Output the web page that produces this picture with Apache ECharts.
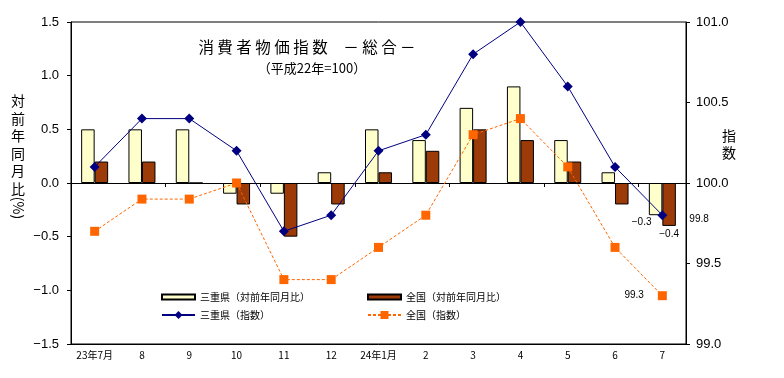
<!DOCTYPE html>
<html><head><meta charset="utf-8">
<script src="https://cdn.jsdelivr.net/npm/echarts@6/dist/echarts.min.js"></script>
<style>html,body{margin:0;padding:0;background:#fff}#c{width:784px;height:378px}</style>
</head><body><div id="c"></div>
<script>
const categories = ['23年7月','8','9','10','11','12','24年1月','2','3','4','5','6','7'];
const mieYoY = [0.5,0.5,0.5,-0.1,-0.1,0.1,0.5,0.4,0.7,0.9,0.4,0.1,-0.3];
const zenkokuYoY = [0.2,0.2,0.0,-0.2,-0.5,-0.2,0.1,0.3,0.5,0.4,0.2,-0.2,-0.4];
const mieIndex = [100.1,100.4,100.4,100.2,99.7,99.8,100.2,100.3,100.8,101.0,100.6,100.1,99.8];
const zenkokuIndex = [99.7,99.9,99.9,100.0,99.4,99.4,99.6,99.8,100.3,100.4,100.1,99.6,99.3];
const seriesNames = ['三重県（対前年同月比）','全国（対前年同月比）','三重県（指数）','全国（指数）'];
const leftTicks = {min:-1.5, max:1.5, interval:0.5};
const rightTicks = {min:99.0, max:101.0, interval:0.5};

const FONT = "'Liberation Sans','Noto Sans CJK JP',sans-serif";
const JFONT = "'Noto Sans CJK JP',sans-serif";
const last = categories.length - 1;
const fmtNum = v => v.toFixed(1).replace('-', '−');

const chart = echarts.init(document.getElementById('c'), null, {renderer:'canvas'});
const legendBase = {itemWidth:33, textStyle:{fontSize:10, color:'#000', fontFamily:JFONT}, itemGap:0, padding:0};
chart.setOption({
  animation:false,
  backgroundColor:'#fff',
  grid:{left:71, top:22, right:98, bottom:34, show:true, borderColor:'#000', borderWidth:1, backgroundColor:'transparent'},
  legend:[
    Object.assign({}, legendBase, {data:[{name:seriesNames[0], icon:'rect'}], left:161, top:292, itemHeight:5}),
    Object.assign({}, legendBase, {data:[{name:seriesNames[1], icon:'rect'}], left:367, top:292, itemHeight:5}),
    Object.assign({}, legendBase, {data:[seriesNames[2]], left:161, top:310, itemHeight:10}),
    Object.assign({}, legendBase, {data:[seriesNames[3]], left:367, top:310, itemHeight:10})
  ],
  xAxis:[
    {type:'category', data:categories, position:'bottom', boundaryGap:true,
     axisLine:{onZero:false, lineStyle:{color:'#000'}}, axisTick:{show:false},
     axisLabel:{fontSize:10, color:'#000', fontFamily:JFONT, margin:6, interval:0}},
    {type:'category', data:categories, position:'bottom', boundaryGap:true,
     axisLine:{onZero:true, onZeroAxisIndex:0, lineStyle:{color:'#000'}},
     axisTick:{show:true, length:4, lineStyle:{color:'#000'}, alignWithLabel:false},
     axisLabel:{show:false}}
  ],
  yAxis:[
    {type:'value', min:leftTicks.min, max:leftTicks.max, interval:leftTicks.interval,
     axisLine:{show:true, lineStyle:{color:'#000'}}, axisTick:{show:true, length:4, lineStyle:{color:'#000'}},
     splitLine:{show:false},
     axisLabel:{fontSize:13, color:'#000', fontFamily:FONT, margin:12, formatter:fmtNum}},
    {type:'value', min:rightTicks.min, max:rightTicks.max, interval:rightTicks.interval, position:'right',
     axisLine:{show:true, lineStyle:{color:'#000'}}, axisTick:{show:true, length:4, lineStyle:{color:'#000'}},
     splitLine:{show:false},
     axisLabel:{fontSize:13, color:'#000', fontFamily:FONT, margin:10, formatter:v=>v.toFixed(1)}}
  ],
  series:[
    {name:seriesNames[0], type:'bar', xAxisIndex:0, yAxisIndex:0, data:mieYoY, barWidth:13.5, barGap:'0%',
     itemStyle:{color:'#FFFFCC', borderColor:'#000', borderWidth:1},
     label:{show:true, position:'bottom', distance:2, offset:[-14,0], fontSize:10, color:'#000', fontFamily:FONT,
       formatter:p=>p.dataIndex===last?fmtNum(p.value):''}},
    {name:seriesNames[1], type:'bar', xAxisIndex:0, yAxisIndex:0, data:zenkokuYoY, barWidth:13.5, barGap:'0%',
     itemStyle:{color:'#9C3A08', borderColor:'#000', borderWidth:1},
     label:{show:true, position:'bottom', distance:3, fontSize:10, color:'#000', fontFamily:FONT,
       formatter:p=>p.dataIndex===last?fmtNum(p.value):''}},
    {name:seriesNames[2], type:'line', xAxisIndex:0, yAxisIndex:1, data:mieIndex, z:5,
     symbol:'diamond', symbolSize:10, lineStyle:{color:'#000080', width:1}, itemStyle:{color:'#000080'},
     label:{show:true, position:'right', distance:22, offset:[0,4], fontSize:10, color:'#000', fontFamily:FONT,
       formatter:p=>p.dataIndex===last?p.value.toFixed(1):''}},
    {name:seriesNames[3], type:'line', xAxisIndex:0, yAxisIndex:1, data:zenkokuIndex, z:4,
     symbol:'rect', symbolSize:9, lineStyle:{color:'#FF6600', width:1, type:[3,2]}, itemStyle:{color:'#FF6600'},
     label:{show:true, position:'left', distance:14, fontSize:10, color:'#000', fontFamily:FONT,
       formatter:p=>p.dataIndex===last?p.value.toFixed(1):''}}
  ],
  graphic:[
    {type:'text', x:307, y:47, style:{text:'消 費 者 物 価 指 数　－ 総 合 －', font:'15.5px '+JFONT, fill:'#000', align:'center', verticalAlign:'middle'}},
    {type:'text', x:312, y:68, style:{text:'（平成22年=100）', font:'13px '+JFONT, fill:'#000', align:'center', verticalAlign:'middle'}},
    {type:'text', x:18, y:92, style:{text:'対\n前\n年\n同\n月\n比', font:'14px '+JFONT, lineHeight:17.5, fill:'#000', align:'center', verticalAlign:'top'}},
    {type:'text', x:18, y:208, rotation:-Math.PI/2, style:{text:'(%)', font:'14px '+JFONT, fill:'#000', align:'center', verticalAlign:'middle'}},
    {type:'text', x:729, y:127, style:{text:'指\n数', font:'14px '+JFONT, lineHeight:17, fill:'#000', align:'center', verticalAlign:'top'}}
  ]
});
</script></body></html>
